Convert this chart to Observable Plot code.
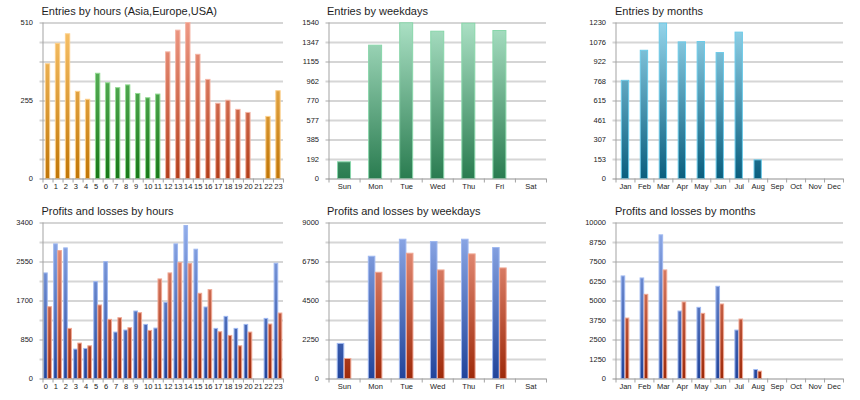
<!DOCTYPE html>
<html><head><meta charset="utf-8">
<script src="https://cdn.jsdelivr.net/npm/d3@7"></script>
<script src="https://cdn.jsdelivr.net/npm/@observablehq/plot@0.6"></script>
<style>
body{margin:0;background:#fff;font-family:"Liberation Sans",Arial,sans-serif;}
#wrap{position:relative;width:860px;height:400px;overflow:hidden;background:#fff;}
.panel{position:absolute;}
.title{position:absolute;font-size:11px;color:#1e1e1e;white-space:nowrap;line-height:11px;}
</style></head><body><div id="wrap"></div>
<script>
// ---------- data ----------
const hours = ["0","1","2","3","4","5","6","7","8","9","10","11","12","13","14","15","16","17","18","19","20","21","22","23"];
const hourRegion = ["asia","asia","asia","asia","asia","europe","europe","europe","europe","europe","europe","europe","usa","usa","usa","usa","usa","usa","usa","usa","usa","usa","asia","asia"];
const hourEntries = [375,442,473,285,259,344,313,297,306,278,264,276,414,485,510,406,324,246,256,226,216,0,203,287];
const hourProfits = [2301,2934,2847,641,655,2111,2548,1012,1056,1471,1179,1099,1660,2934,3334,2818,1558,1092,1354,1092,1179,0,1310,2512];
const hourLosses  = [1565,2788,1092,772,713,1602,1289,1325,1107,1434,1048,2170,2301,2526,2504,1857,1937,1019,939,713,1012,0,1187,1427];

const weekdays = ["Sun","Mon","Tue","Wed","Thu","Fri","Sat"];
const weekdayEntries = [165,1316,1537,1454,1533,1461,0];
const weekdayProfits = [2024,7054,8036,7901,8036,7555,0];
const weekdayLosses  = [1156,6129,7227,6263,7188,6379,0];

const months = ["Jan","Feb","Mar","Apr","May","Jun","Jul","Aug","Sep","Oct","Nov","Dec"];
const monthEntries = [774,1011,1225,1077,1080,993,1154,147,0,0,0,0];
const monthProfits = [6574,6445,9208,4325,4561,5910,3105,578,0,0,0,0];
const monthLosses  = [3876,5396,6959,4904,4176,4775,3812,471,0,0,0,0];

const hourEntryTicks = [0,255,510];
const weekdayEntryTicks = [0,192,385,577,770,962,1155,1347,1540];
const monthEntryTicks = [0,153,307,461,615,768,922,1076,1230];
const hourPLTicks = [0,850,1700,2550,3400];
const weekdayPLTicks = [0,2250,4500,6750,9000];
const monthPLTicks = [0,1250,2500,3750,5000,6250,7500,8750,10000];

// ---------- styles ----------
const GRADS = {
  asia:   ["#f9c46c", "#c07608", "#fdd08a"],
  europe: ["#72c472", "#187818", "#92da92"],
  usa:    ["#ee9884", "#b23e1a", "#f4b4a4"],
  mint:   ["#aae0c4", "#2a7c50", "#88d6aa"],
  teal:   ["#94d4ea", "#0a5e7e", "#6ccae8"],
  profit: ["#95b0ec", "#21449a", "#9fb8f0"],
  loss:   ["#ef9c88", "#9e2a0a", "#f0a894"]
};
const FONT = "'Liberation Sans', Arial, sans-serif";
const wrap = document.getElementById("wrap");

function panel(o) {
  const height = 200, mt = 22.5, mb = 21.5;
  const n = o.cats.length;
  const step = (o.width - o.ml - o.mr) / n;
  const bw = step * (1 - o.pin);
  const ymax = o.ticks[o.ticks.length - 1];
  const grid = d3.range(9).map(i => ymax * i / 8);
  const pid = o.id;
  const used = new Set();
  const marks = [
    Plot.ruleY(grid.filter((d, i) => i % 2 === 1), {stroke: "#d6d6d6", strokeWidth: 2, insetLeft: -3}),
    Plot.ruleY(grid.filter((d, i) => i % 2 === 0 && i > 0), {stroke: "#ababab", strokeWidth: 1, insetLeft: -3})
  ];
  o.series.forEach(s => {
    const data = o.cats.map((c, i) => ({c, v: s.values[i], g: s.grad(i)})).filter(d => d.v > 0);
    const names = [...new Set(data.map(d => d.g))];
    names.forEach(name => {
      used.add(name);
      const insets = s.side === "left" ? {insetLeft: 0.5, insetRight: bw / 2 + 0.25}
                   : s.side === "right" ? {insetLeft: bw / 2 + 0.25, insetRight: 0.5}
                   : {insetLeft: 0.5, insetRight: 0.5};
      marks.push(Plot.barY(data.filter(d => d.g === name), {
        x: "c", y: "v", fill: `url(#${pid}-${name})`, stroke: GRADS[name][2], strokeWidth: 1, ...insets
      }));
    });
  });
  marks.push(
    Plot.ruleY([0], {stroke: "#8f8f8f", strokeWidth: 1, insetLeft: -3}),
    Plot.frame({anchor: "left", stroke: "#a3a3a3"}),
    Plot.axisX({tickSize: 4, tickFormat: () => "", dx: -step / 2, color: "#a3a3a3", label: null}),
    Plot.axisX([o.cats[n - 1]], {tickSize: 4, tickFormat: () => "", dx: step / 2, color: "#a3a3a3", label: null}),
    Plot.axisX({tickSize: 0, tickPadding: 5, fontSize: 7.5, color: "#222", label: null,
      ...(o.startLabels ? {textAnchor: "start", dx: -step / 2 + 0.8} : {})}),
    Plot.axisY({ticks: o.ticks, tickSize: 0, tickPadding: 10, fontSize: 7.5, color: "#222", label: null,
      tickFormat: d => String(d)})
  );
  const svg = Plot.plot({
    width: o.width, height,
    marginLeft: o.ml, marginRight: o.mr, marginTop: mt, marginBottom: mb,
    x: {type: "band", domain: o.cats, paddingInner: o.pin, paddingOuter: o.pin / 2, align: 0.5, round: false, label: null},
    y: {domain: [0, ymax], label: null},
    style: {fontFamily: FONT, background: "transparent", overflow: "visible"},
    marks
  });
  const ns = "http://www.w3.org/2000/svg";
  const defs = document.createElementNS(ns, "defs");
  used.forEach(name => {
    const lg = document.createElementNS(ns, "linearGradient");
    lg.setAttribute("id", `${pid}-${name}`);
    lg.setAttribute("gradientUnits", "userSpaceOnUse");
    lg.setAttribute("x1", 0); lg.setAttribute("x2", 0);
    lg.setAttribute("y1", mt); lg.setAttribute("y2", height - mb);
    [[0, GRADS[name][0]], [1, GRADS[name][1]]].forEach(([off, col]) => {
      const st = document.createElementNS(ns, "stop");
      st.setAttribute("offset", off); st.setAttribute("stop-color", col);
      lg.appendChild(st);
    });
    defs.appendChild(lg);
  });
  svg.insertBefore(defs, svg.firstChild);
  const div = document.createElement("div");
  div.className = "panel";
  div.style.left = o.left + "px"; div.style.top = o.top + "px";
  div.appendChild(svg);
  wrap.appendChild(div);
  const t = document.createElement("div");
  t.className = "title";
  t.textContent = o.title;
  t.style.left = o.titleX + "px"; t.style.top = (o.top + 6) + "px";
  wrap.appendChild(t);
}

panel({id: "pa", left: 0, top: 0, width: 290, ml: 42.5, mr: 7, cats: hours, pin: 0.47, startLabels: true,
  ticks: hourEntryTicks, title: "Entries by hours (Asia,Europe,USA)", titleX: 41.5,
  series: [{values: hourEntries, grad: i => hourRegion[i], side: "full"}]});
panel({id: "pb", left: 290, top: 0, width: 280, ml: 38.5, mr: 24, cats: weekdays, pin: 0.55,
  ticks: weekdayEntryTicks, title: "Entries by weekdays", titleX: 327,
  series: [{values: weekdayEntries, grad: () => "mint", side: "full"}]});
panel({id: "pc", left: 570, top: 0, width: 290, ml: 45.5, mr: 17, cats: months, pin: 0.56,
  ticks: monthEntryTicks, title: "Entries by months", titleX: 615,
  series: [{values: monthEntries, grad: () => "teal", side: "full"}]});
panel({id: "pd", left: 0, top: 200, width: 290, ml: 42.5, mr: 7, cats: hours, pin: 0.13, startLabels: true,
  ticks: hourPLTicks, title: "Profits and losses by hours", titleX: 41.5,
  series: [{values: hourProfits, grad: () => "profit", side: "left"},
           {values: hourLosses, grad: () => "loss", side: "right"}]});
panel({id: "pe", left: 290, top: 200, width: 280, ml: 38.5, mr: 24, cats: weekdays, pin: 0.53,
  ticks: weekdayPLTicks, title: "Profits and losses by weekdays", titleX: 327,
  series: [{values: weekdayProfits, grad: () => "profit", side: "left"},
           {values: weekdayLosses, grad: () => "loss", side: "right"}]});
panel({id: "pf", left: 570, top: 200, width: 290, ml: 45.5, mr: 17, cats: months, pin: 0.54,
  ticks: monthPLTicks, title: "Profits and losses by months", titleX: 615,
  series: [{values: monthProfits, grad: () => "profit", side: "left"},
           {values: monthLosses, grad: () => "loss", side: "right"}]});
</script></body></html>
